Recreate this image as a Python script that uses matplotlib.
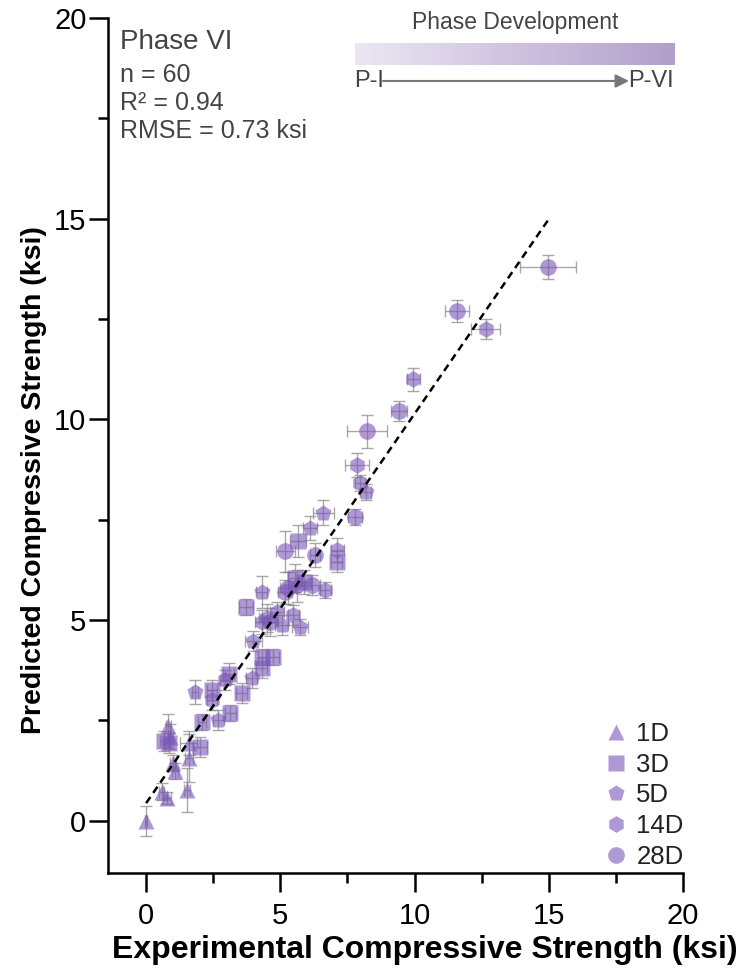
import matplotlib
matplotlib.use("Agg")
import matplotlib.pyplot as plt
import numpy as np
from matplotlib.lines import Line2D
from matplotlib.colors import LinearSegmentedColormap

plt.rcParams['font.family'] = ['Liberation Sans', 'DejaVu Sans']

# ---- data: experimental vs predicted strength (ksi) by curing age ----
ages = ["1D", "3D", "5D", "14D", "28D"]
markers = ["^", "s", "p", "h", "o"]

exp_1d = [0.00, 0.58, 0.77, 1.52, 1.08, 1.00, 1.58, 1.58, 0.83, 0.90]
pred_1d = [0.00, 0.73, 0.56, 0.77, 1.23, 1.45, 1.56, 1.93, 2.35, 2.10]
xerr_1d = [0.05, 0.10, 0.15, 0.10, 0.10, 0.10, 0.15, 0.30, 0.10, 0.10]
yerr_1d = [0.38, 0.20, 0.15, 0.54, 0.20, 0.20, 0.60, 0.30, 0.30, 0.30]

exp_3d = [0.65, 0.87, 2.01, 2.07, 3.13, 2.45, 3.56, 4.31, 4.31, 4.74, 3.72, 5.67, 3.07, 5.55, 7.10, 5.90]
pred_3d = [1.98, 1.93, 1.85, 2.47, 2.68, 3.26, 3.18, 3.80, 4.09, 4.09, 5.32, 6.96, 3.67, 6.04, 6.46, 5.95]
xerr_3d = [0.15, 0.15, 0.25, 0.15, 0.20, 0.20, 0.20, 0.20, 0.15, 0.20, 0.25, 0.30, 0.20, 0.25, 0.20, 0.25]
yerr_3d = [0.25, 0.25, 0.25, 0.20, 0.20, 0.25, 0.25, 0.25, 0.20, 0.20, 0.20, 0.40, 0.25, 0.35, 0.25, 0.30]

exp_5d = [1.82, 2.69, 3.93, 4.31, 5.74, 6.11, 6.60, 8.18, 5.05, 4.00]
pred_5d = [3.22, 2.52, 3.55, 5.71, 4.84, 7.29, 7.68, 8.20, 4.88, 4.47]
xerr_5d = [0.10, 0.20, 0.20, 0.20, 0.30, 0.25, 0.40, 0.20, 0.25, 0.30]
yerr_5d = [0.30, 0.25, 0.25, 0.40, 0.20, 0.30, 0.30, 0.20, 0.25, 0.25]

exp_14d = [12.65, 9.95, 7.87, 7.97, 7.12, 6.67, 4.50, 4.87, 5.49, 5.61, 2.94, 2.45, 4.30]
pred_14d = [12.25, 11.00, 8.87, 8.41, 6.75, 5.75, 5.05, 5.21, 5.13, 5.84, 3.51, 3.01, 4.95]
xerr_14d = [0.55, 0.25, 0.45, 0.20, 0.25, 0.20, 0.30, 0.25, 0.20, 0.30, 0.20, 0.20, 0.25]
yerr_14d = [0.25, 0.28, 0.30, 0.20, 0.30, 0.20, 0.35, 0.25, 0.25, 0.40, 0.25, 0.25, 0.30]

exp_28d = [14.97, 11.58, 9.42, 8.23, 7.78, 5.18, 6.29, 6.17, 5.18, 4.60, 5.30]
pred_28d = [13.80, 12.70, 10.22, 9.70, 7.58, 6.71, 6.63, 5.88, 5.71, 4.95, 5.80]
xerr_28d = [1.05, 0.45, 0.30, 0.75, 0.25, 0.35, 0.20, 0.30, 0.25, 0.30, 0.30]
yerr_28d = [0.30, 0.28, 0.25, 0.40, 0.20, 0.50, 0.30, 0.25, 0.30, 0.35, 0.40]

# fitted trend line
fit_x = [0.0, 15.0]
fit_intercept = 0.44
fit_slope = 0.97

groups = [
    (exp_1d, pred_1d, xerr_1d, yerr_1d),
    (exp_3d, pred_3d, xerr_3d, yerr_3d),
    (exp_5d, pred_5d, xerr_5d, yerr_5d),
    (exp_14d, pred_14d, xerr_14d, yerr_14d),
    (exp_28d, pred_28d, xerr_28d, yerr_28d),
]

W, H = 749, 973
fig = plt.figure(figsize=(W / 100, H / 100), dpi=100)
ax = fig.add_axes([108 / W, 1 - 873 / H, (683 - 108) / W, (873 - 18) / H])

point_color = "#7a56b8"
err_color = "#8c8c8c"
msize = 12

for (ex, pr, xe, ye), mk in zip(groups, markers):
    ax.errorbar(ex, pr, xerr=xe, yerr=ye, fmt="none", ecolor=err_color,
                elinewidth=1.0, capsize=4.5, capthick=1.0, alpha=0.75, zorder=2)
for (ex, pr, xe, ye), mk in zip(groups, markers):
    ax.plot(ex, pr, linestyle="none", marker=mk, markersize=msize,
            markerfacecolor=point_color, markeredgecolor="none",
            alpha=0.6, zorder=3)

fx = np.array(fit_x)
ax.plot(fx, fit_intercept + fit_slope * fx, color="black", lw=1.8,
        linestyle=(0, (3, 2)), zorder=4)

ax.set_xlim(-1.42, 20)
ax.set_ylim(-1.3, 20)
ax.set_xticks([0, 5, 10, 15, 20])
ax.set_yticks([0, 5, 10, 15, 20])
ax.set_xticks(np.arange(2.5, 20, 5), minor=True)
ax.set_yticks(np.arange(2.5, 20, 5), minor=True)
for s in ["top", "right"]:
    ax.spines[s].set_visible(False)
for s in ["left", "bottom"]:
    ax.spines[s].set_linewidth(1.8)
ax.tick_params(which="major", length=14, width=1.8, labelsize=21, colors="black")
ax.tick_params(which="minor", length=7, width=1.8)
ax.tick_params(axis="y", which="major", pad=1.5)
ax.tick_params(axis="x", which="major", pad=7)

ax.set_xlabel("Experimental Compressive Strength (ksi)", fontsize=23,
              fontweight="bold")
ax.set_ylabel("Predicted Compressive Strength (ksi)", fontsize=20.5,
              fontweight="bold")
ax.xaxis.set_label_coords(0.551, -0.072)
ax.yaxis.set_label_coords(-0.106, 0.46)

# summary statistics
txt_color = "#444444"
fig.text(120 / W, 1 - 42 / H, "Phase VI", fontsize=20, color=txt_color,
         ha="left", va="center")
fig.text(120 / W, 1 - 75 / H, "n = 60", fontsize=18, color=txt_color,
         ha="left", va="center")
fig.text(120 / W, 1 - 103 / H, "R² = 0.94", fontsize=18, color=txt_color,
         ha="left", va="center")
fig.text(120 / W, 1 - 131 / H, "RMSE = 0.73 ksi", fontsize=18,
         color=txt_color, ha="left", va="center")

# phase development gradient bar
bar_ax = fig.add_axes([355 / W, 1 - 65 / H, 320 / W, 22 / H])
cmap = LinearSegmentedColormap.from_list("phase", ["#ece7f3", "#b19fcb"])
bar_ax.imshow(np.linspace(0, 1, 256)[None, :], aspect="auto", cmap=cmap)
bar_ax.set_axis_off()
fig.text(515 / W, 1 - 23 / H, "Phase Development", fontsize=16.5,
         color=txt_color, ha="center", va="center")
arrow_y = 1 - 81 / H
fig.text(354 / W, arrow_y, "P-I", fontsize=17, color=txt_color,
         ha="left", va="center")
fig.text(628 / W, arrow_y, "P-VI", fontsize=17, color=txt_color,
         ha="left", va="center")
ax.annotate("", xy=(629 / W, arrow_y), xytext=(383 / W, arrow_y),
            xycoords="figure fraction", textcoords="figure fraction",
            arrowprops=dict(arrowstyle="-|>", color="#777777", lw=1.5,
                            mutation_scale=20, shrinkA=0, shrinkB=0))

# legend
handles = [Line2D([], [], linestyle="none", marker=mk, markersize=msize,
                  markerfacecolor=point_color, markeredgecolor="none",
                  alpha=0.6) for mk in markers]
leg = ax.legend(handles, ages, loc="lower right", bbox_to_anchor=(1.028, -0.013),
                frameon=False, fontsize=18.5, handlelength=0.8,
                handletextpad=0.4, labelspacing=0.26, borderaxespad=0.2)
for t in leg.get_texts():
    t.set_color("#222222")

fig.savefig("out.png", dpi=100)
